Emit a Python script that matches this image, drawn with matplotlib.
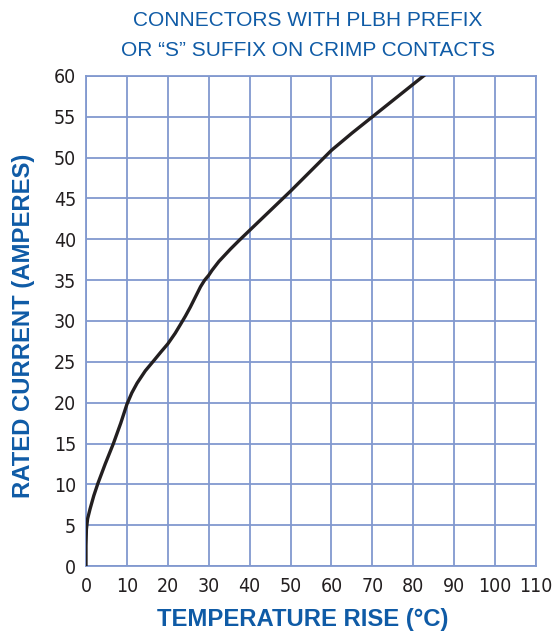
import matplotlib
matplotlib.use('Agg')
import matplotlib.pyplot as plt

# temperature rise (C) vs rated current (A)
temp_rise = [0, 0, 0.1, 0.4, 1.0, 1.9, 2.9, 4.7, 6.7, 8.5, 10, 11.2, 12.5, 14.5, 16.5,
             18.3, 20, 21.8, 23, 24.3, 25.5, 26.8, 28, 29, 30, 30.8, 32.5, 35.3, 37.3,
             40, 45, 50, 55, 60, 65, 70, 75, 80, 82.5]
current = [0, 2.5, 4.5, 5.8, 7.0, 8.6, 10.1, 12.5, 15, 17.5, 19.8, 21.2, 22.4, 23.9, 25.1,
           26.2, 27.2, 28.5, 29.5, 30.6, 31.7, 33.0, 34.2, 35.0, 35.6, 36.2, 37.3, 38.8, 39.8,
           41.1, 43.5, 45.9, 48.4, 50.9, 53, 55, 57, 59, 60]

x_ticks = list(range(0, 111, 10))
y_ticks = list(range(0, 61, 5))

blue = '#0f5ba6'
grid_c = '#8199cf'

fig = plt.figure(figsize=(5.53, 6.33), dpi=100)
ax = fig.add_axes([0.1555, 0.1058, 0.8138, 0.7742])

ax.plot(temp_rise, current, color='#231f20', lw=2.4, zorder=3)

ax.set_xlim(0, 110)
ax.set_ylim(0, 60)
ax.set_xticks(x_ticks)
ax.set_yticks(y_ticks)
ax.grid(True, color=grid_c, lw=1.3)
ax.set_axisbelow(True)
for s in ax.spines.values():
    s.set_color(grid_c)
    s.set_linewidth(1.3)
ax.tick_params(axis='x', length=0, pad=8, labelsize=14, labelcolor='#231f20')
ax.tick_params(axis='y', length=0, pad=7, labelsize=14, labelcolor='#231f20')
for lab in ax.get_xticklabels() + ax.get_yticklabels():
    lab.set_family('DejaVu Sans')
    lab.set_stretch('condensed')

fig.text(0.557, 0.967, 'CONNECTORS WITH PLBH PREFIX', ha='center', va='center',
         color=blue, fontsize=15, family=['Liberation Sans', 'DejaVu Sans'])
fig.text(0.557, 0.921, 'OR \u201cS\u201d SUFFIX ON CRIMP CONTACTS', ha='center', va='center',
         color=blue, fontsize=15, family=['Liberation Sans', 'DejaVu Sans'])

fig.text(0.548, 0.021, 'TEMPERATURE RISE (\u00b0C)', ha='center', va='center',
         color=blue, fontsize=17.2, fontweight='bold', family=['Liberation Sans', 'DejaVu Sans'])
fig.text(0.0425, 0.485, 'RATED CURRENT (AMPERES)', ha='center', va='center', rotation=90,
         color=blue, fontsize=17.2, fontweight='bold', family=['Liberation Sans', 'DejaVu Sans'])

plt.savefig('out.png', dpi=100)
